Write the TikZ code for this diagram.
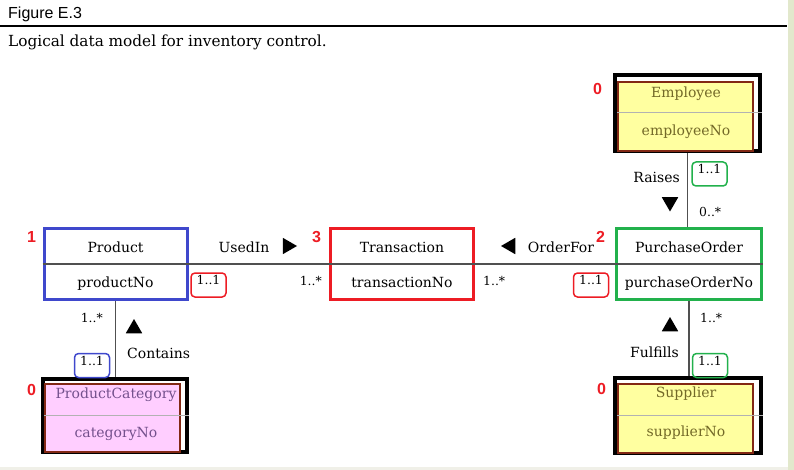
\documentclass[tikz,border=0pt]{standalone}
\usepackage{fontspec}
\setmainfont{DejaVu Serif}
\setsansfont{Liberation Sans}
\usetikzlibrary{shapes.geometric}
\definecolor{prodc}{RGB}{63,72,204}
\definecolor{transc}{RGB}{237,28,36}
\definecolor{poc}{RGB}{34,177,76}
\definecolor{yelc}{RGB}{255,255,160}
\definecolor{pinkc}{RGB}{255,206,255}
\definecolor{brownc}{RGB}{130,40,20}
\definecolor{olivec}{RGB}{115,105,40}
\definecolor{plumc}{RGB}{115,80,140}
\definecolor{linec}{RGB}{80,80,80}
\definecolor{stripc}{RGB}{226,232,204}
\definecolor{basec}{RGB}{240,240,232}
\tikzset{
  ent/.style={draw=#1, line width=3pt, minimum width=143pt, minimum height=71pt, inner sep=0pt},
  frame/.style={draw=black, line width=4pt, inner sep=0pt},
  hl/.style={draw=brownc, fill=#1, line width=1.2pt, minimum width=135pt, inner sep=0pt},
  txt/.style={font=\fontsize{14}{17}\selectfont, anchor=base, inner sep=0pt},
  mult/.style={font=\fontsize{12.4}{15}\selectfont, inner sep=0pt},
  multbox/.style={draw=#1, rounded corners=4pt, line width=1.5pt, font=\fontsize{12.4}{15}\selectfont,
                  text height=9.5pt, text depth=10.5pt, inner ysep=2pt, inner xsep=0pt, minimum width=35pt},
  link/.style={draw=linec, line width=1.2pt},
  split/.style={draw=gray!60, line width=1pt},
  tri/.style={regular polygon, regular polygon sides=3, fill=black, inner sep=0pt,
              minimum size=19pt, shape border rotate=#1},
  num/.style={text=transc, font=\sffamily\bfseries\fontsize{16}{19}\selectfont, anchor=base west, inner sep=0pt},
}

\begin{document}
\begin{tikzpicture}[x=1pt, y=-1pt]
  \useasboundingbox (0,0) rectangle (794,470);
  \fill[stripc] (788,0) rectangle (794,470);
  \fill[basec] (0,467) rectangle (788,470);

  % heading
  \node[anchor=base west, inner sep=0pt, font=\sffamily\fontsize{16}{19}\selectfont] (fig) at (8,19) {Figure E.3};
  \draw[line width=1.5pt] (0,26) -- (787,26);
  \node[anchor=base west, inner sep=0pt, font=\fontsize{15.3}{18}\selectfont] (caption) at (8,47)
    {Logical data model for inventory control.};

  % main entities
  \node[ent=prodc] (prod) at (115.5,264) {};
  \draw[link] (prod.west) -- (prod.east);
  \node[txt] (prodname) at (115.5,252) {Product};
  \node[txt] (prodkey) at (115.5,287) {productNo};

  \node[ent=transc] (trans) at (402,264) {};
  \draw[link] (trans.west) -- (trans.east);
  \node[txt] (transname) at (402,252) {Transaction};
  \node[txt] (transkey) at (402,287) {transactionNo};

  \node[ent=poc, minimum width=145pt] (po) at (689,264) {};
  \draw[link] (po.west) -- (po.east);
  \node[txt] (poname) at (689,252) {PurchaseOrder};
  \node[txt] (pokey) at (689,287) {purchaseOrderNo};

  % highlighted entities
  \node[frame, minimum width=145pt, minimum height=76pt] (emp) at (687.5,113) {};
  \node[hl=yelc, minimum height=69pt] (empbox) at (685.5,116.5) {};
  \draw[split] (empbox.west |- emp.center) -- (emp.east);
  \node[txt, text=olivec] (empname) at (686,98) {Employee};
  \node[txt, text=olivec] (empkey) at (686,136) {employeeNo};

  \node[frame, minimum width=146pt, minimum height=75pt] (sup) at (688,415.5) {};
  \node[hl=yelc, minimum height=69pt] (supbox) at (685.5,418.5) {};
  \draw[split] (supbox.west |- sup.center) -- (sup.east);
  \node[txt, text=olivec] (supname) at (686,397) {Supplier};
  \node[txt, text=olivec] (supkey) at (686,436) {supplierNo};

  \node[frame, minimum width=144pt, minimum height=73pt] (cat) at (115,415.5) {};
  \node[hl=pinkc, minimum height=68pt] (catbox) at (112.5,418) {};
  \draw[split] (catbox.west |- cat.center) -- (cat.east);
  \node[txt, text=plumc] (catname) at (116,398) {ProductCategory};
  \node[txt, text=plumc] (catkey) at (116,437) {categoryNo};

  % relationships
  \draw[link] (prod.east) -- (trans.west);
  \draw[link] (trans.east) -- (po.west);
  \draw[link] (emp.south) -- (emp.south |- po.north);
  \draw[link] (po.south) -- (po.south |- sup.north);
  \draw[link] (prod.south) -- (prod.south |- cat.north);

  \node[txt] (usedin) at (244,252) {UsedIn};
  \node[tri=-90] (usedtri) at (287.5,246) {};
  \node[txt] (orderfor) at (561,252) {OrderFor};
  \node[tri=90] (ordertri) at (510.5,246) {};
  \node[txt, anchor=base east] (raises) at (680,183) {Raises};
  \node[tri=180] (raisetri) at (670,202) {};
  \node[txt, anchor=base west] (contains) at (127,358) {Contains};
  \node[tri=0] (containtri) at (134,328.5) {};
  \node[txt, anchor=base east] (fulfills) at (679,357) {Fulfills};
  \node[tri=0] (fulfiltri) at (670,326.5) {};

  % multiplicities
  \node[multbox=transc] (m1) at (208.5,285) {1..1};
  \node[mult, anchor=base east] (m2) at (322,285) {1..*};
  \node[mult, anchor=base west] (m3) at (483,285) {1..*};
  \node[multbox=transc] (m4) at (591,285) {1..1};
  \node[multbox=poc] (m5) at (709.5,174) {1..1};
  \node[mult, anchor=base west] (m6) at (699,217) {0..*};
  \node[mult, anchor=base east] (m7) at (103,322) {1..*};
  \node[multbox=prodc] (m8) at (92,365.5) {1..1};
  \node[mult, anchor=base west] (m9) at (700,322) {1..*};
  \node[multbox=poc] (m10) at (710,365.5) {1..1};

  % ranks
  \node[num] (r1) at (27,243) {1};
  \node[num] (r3) at (312,243) {3};
  \node[num] (r2) at (596,243) {2};
  \node[num] (r0a) at (593,95) {0};
  \node[num] (r0b) at (27,395) {0};
  \node[num] (r0c) at (597,394) {0};
\end{tikzpicture}
\end{document}
